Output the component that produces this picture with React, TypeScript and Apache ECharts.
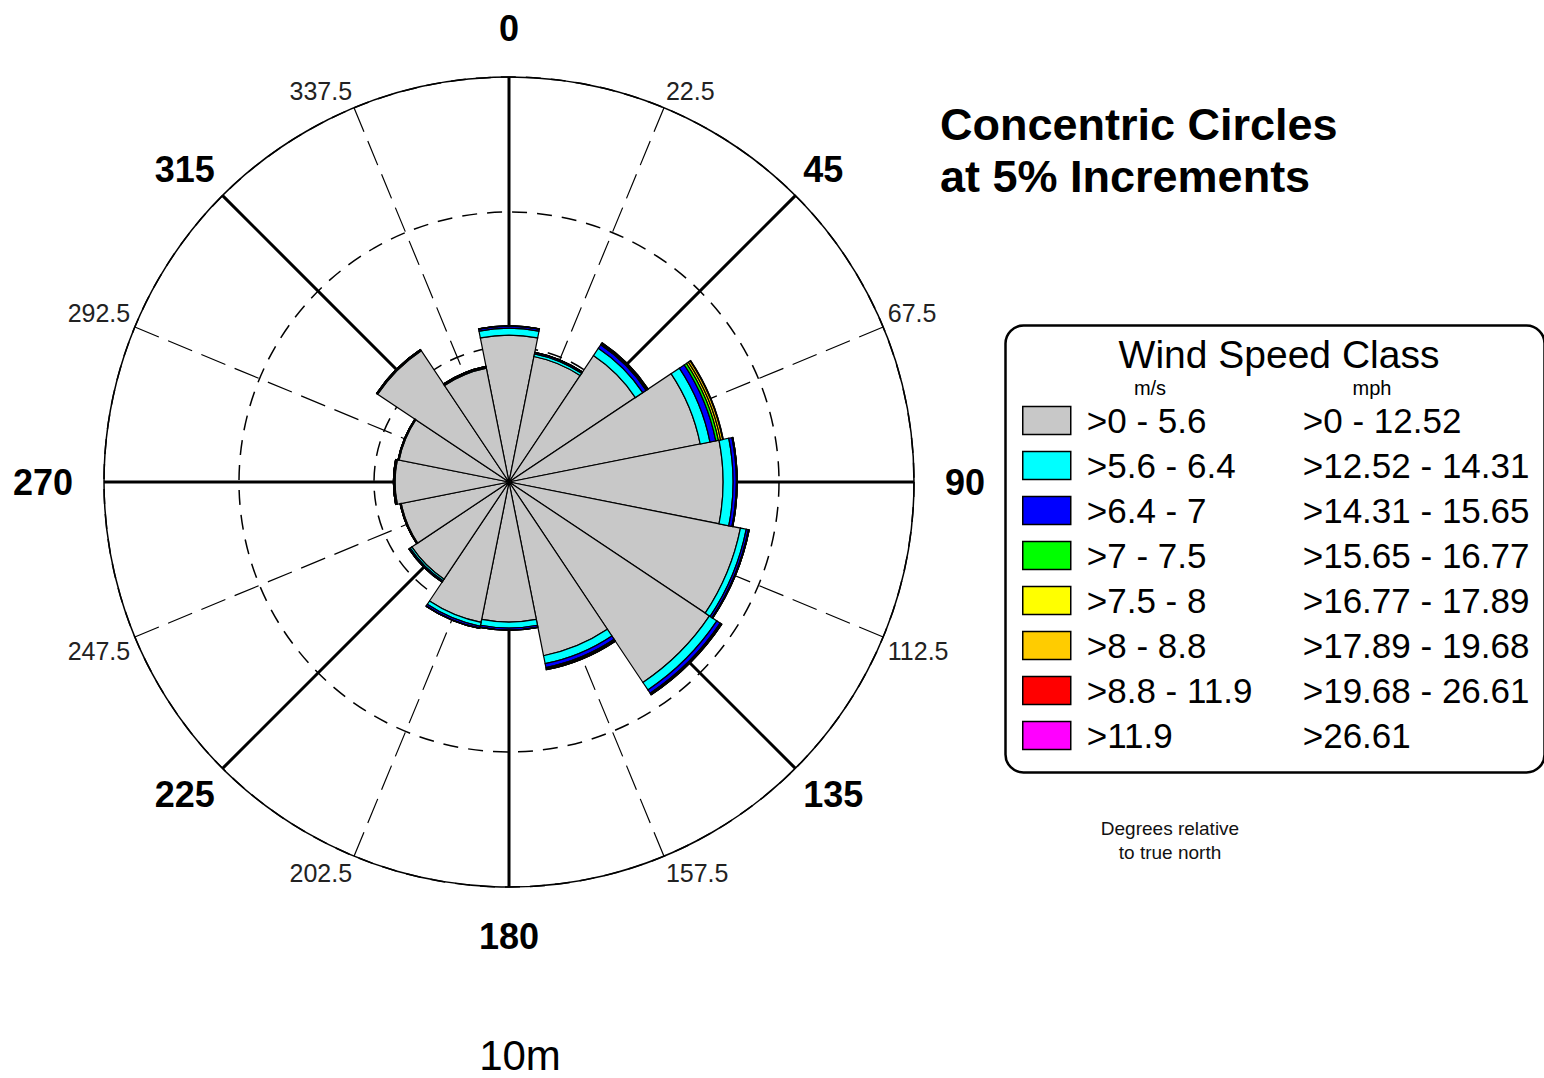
import React, { useEffect, useRef } from "react";
import * as echarts from "echarts";

const directions = ["N", "NNE", "NE", "ENE", "E", "ESE", "SE", "SSE", "S", "SSW", "SW", "WSW", "W", "WNW", "NW", "NNW"];
const cardinalLabels = ["0", "90", "180", "270"];
const diagonalLabels = ["45", "135", "225", "315"];
const minorLabels = ["22.5", "67.5", "112.5", "157.5", "202.5", "247.5", "292.5", "337.5"];

const speedMs = [">0 - 5.6", ">5.6 - 6.4", ">6.4 - 7", ">7 - 7.5", ">7.5 - 8", ">8 - 8.8", ">8.8 - 11.9", ">11.9"];
const speedMph = [">0 - 12.52", ">12.52 - 14.31", ">14.31 - 15.65", ">15.65 - 16.77", ">16.77 - 17.89", ">17.89 - 19.68", ">19.68 - 26.61", ">26.61"];
const speedColors = ["#c8c8c8", "#00ffff", "#0000ff", "#00ff00", "#ffff00", "#ffcc00", "#ff0000", "#ff00ff"];

// percent frequency per direction (N, NNE, ..., NNW)
const class1 = [5.44, 4.74, 5.63, 7.22, 7.93, 8.74, 8.93, 6.56, 5.19, 5.3, 4.33, 4.07, 4.22, 4.15, 5.85, 4.3];
const class2 = [0.26, 0.1, 0.33, 0.37, 0.37, 0.22, 0.33, 0.3, 0.22, 0.15, 0.07, 0.02, 0.03, 0.02, 0.03, 0.02];
const class3 = [0.07, 0.05, 0.15, 0.22, 0.12, 0.08, 0.15, 0.15, 0.07, 0.07, 0.05, 0.02, 0.03, 0.02, 0.02, 0.04];
const class4 = [0.01, 0.01, 0.04, 0.1, 0.02, 0.02, 0.04, 0.04, 0.01, 0.01, 0.01, 0, 0, 0, 0, 0.01];
const class5 = [0, 0, 0.03, 0.08, 0.01, 0.01, 0.02, 0.03, 0, 0, 0, 0, 0, 0, 0, 0];
const class6 = [0, 0, 0.02, 0.08, 0, 0, 0.01, 0.01, 0, 0, 0, 0, 0, 0, 0, 0];
const class7 = [0, 0, 0, 0.02, 0, 0, 0, 0, 0, 0, 0, 0, 0, 0, 0, 0];
const class8 = [0, 0, 0, 0, 0, 0, 0, 0, 0, 0, 0, 0, 0, 0, 0, 0];
const classData = [class1, class2, class3, class4, class5, class6, class7, class8];

const FONT = "'Liberation Sans', Arial, sans-serif";
const CENTER = [509, 482];
const RADIUS = 405;

export default function App() {
  const ref = useRef<HTMLDivElement>(null);

  useEffect(() => {
    document.body.style.margin = "0";
    const chart = echarts.init(ref.current!, null, { renderer: "svg" });

    const polarBase = { center: CENTER, radius: RADIUS };
    const hiddenRadius = (i: number) => ({
      polarIndex: i,
      type: "value",
      min: 0,
      max: 15,
      show: false,
    });

    const option: any = {
      animation: false,
      backgroundColor: "#ffffff",
      title: [
        {
          text: "Concentric Circles\nat 5% Increments",
          left: 935,
          top: 93,
          textStyle: { fontFamily: FONT, fontSize: 45, fontWeight: "bold", color: "#000", lineHeight: 52 },
        },
      ],
      polar: [polarBase, polarBase, polarBase, polarBase],
      angleAxis: [
        {
          polarIndex: 0,
          type: "category",
          data: directions,
          boundaryGap: true,
          startAngle: 90 + 11.25,
          clockwise: true,
          axisLine: { show: true, lineStyle: { color: "#000", width: 1.5 } },
          axisTick: { show: false },
          axisLabel: { show: false },
          splitLine: { show: false },
          z: 1,
        },
        {
          polarIndex: 1,
          type: "category",
          data: cardinalLabels,
          boundaryGap: false,
          startAngle: 90,
          clockwise: true,
          axisLine: { show: false },
          axisTick: { show: false },
          axisLabel: { show: true, interval: 0, margin: 31, fontFamily: FONT, fontSize: 36, fontWeight: "bold", color: "#000" },
          splitLine: { show: true, interval: 0, lineStyle: { color: "#000", width: 3 } },
          z: 1,
        },
        {
          polarIndex: 2,
          type: "category",
          data: diagonalLabels,
          boundaryGap: false,
          startAngle: 45,
          clockwise: true,
          axisLine: { show: false },
          axisTick: { show: false },
          axisLabel: { show: true, interval: 0, margin: 11, fontFamily: FONT, fontSize: 36, fontWeight: "bold", color: "#000" },
          splitLine: { show: true, interval: 0, lineStyle: { color: "#000", width: 3 } },
          z: 1,
        },
        {
          polarIndex: 3,
          type: "category",
          data: minorLabels,
          boundaryGap: false,
          startAngle: 67.5,
          clockwise: true,
          axisLine: { show: false },
          axisTick: { show: false },
          axisLabel: { show: true, interval: 0, margin: 5, fontFamily: FONT, fontSize: 25, color: "#222" },
          splitLine: { show: true, interval: 0, lineStyle: { color: "#000", width: 1.2, type: [26, 10] } },
          z: 1,
        },
      ],
      radiusAxis: [
        {
          polarIndex: 0,
          type: "value",
          min: 0,
          max: 15,
          interval: 5,
          axisLine: { show: false },
          axisTick: { show: false },
          axisLabel: { show: false },
          splitLine: { show: true, lineStyle: { color: "#000", width: 1.5, type: [15, 10] } },
          z: 1,
        },
        hiddenRadius(1),
        hiddenRadius(2),
        hiddenRadius(3),
      ],
      legend: {
        orient: "vertical",
        left: 1022,
        top: 403,
        padding: 0,
        itemWidth: 48,
        itemHeight: 28,
        itemGap: 10,
        icon: "rect",
        selectedMode: false,
        data: speedMs,
        itemStyle: { borderColor: "#000", borderWidth: 1.5 },
        formatter: (name: string) => {
          const i = speedMs.indexOf(name);
          return `{a|${name}}{b|${speedMph[i]}}`;
        },
        textStyle: {
          color: "#000",
          fontFamily: FONT,
          fontSize: 35,
          lineHeight: 35,
          rich: {
            a: { fontFamily: FONT, fontSize: 35, lineHeight: 35, color: "#000", width: 216, padding: [0, 0, 0, 11] },
            b: { fontFamily: FONT, fontSize: 35, lineHeight: 35, color: "#000" },
          },
        },
      },
      graphic: [
        {
          type: "rect",
          left: 1003,
          top: 323,
          shape: { width: 539, height: 447, r: 18 },
          style: { fill: "none", stroke: "#000", lineWidth: 2.5 },
          z: 0,
        },
        {
          type: "text",
          x: 1279,
          y: 354,
          style: { text: "Wind Speed Class", fontFamily: FONT, fontSize: 39, fill: "#000", align: "center", verticalAlign: "middle" },
        },
        {
          type: "text",
          x: 1150,
          y: 388,
          style: { text: "m/s", fontFamily: FONT, fontSize: 20, fill: "#000", align: "center", verticalAlign: "middle" },
        },
        {
          type: "text",
          x: 1372,
          y: 388,
          style: { text: "mph", fontFamily: FONT, fontSize: 20, fill: "#000", align: "center", verticalAlign: "middle" },
        },
        {
          type: "text",
          x: 1170,
          y: 840,
          style: {
            text: "Degrees relative\nto true north",
            fontFamily: FONT,
            fontSize: 19,
            lineHeight: 24,
            fill: "#111",
            align: "center",
            verticalAlign: "middle",
          },
        },
        {
          type: "text",
          x: 520,
          y: 1055,
          style: {
            text: "10m",
            fontFamily: FONT,
            fontSize: 42,
            lineHeight: 42,
            fill: "#000",
            align: "center",
            verticalAlign: "middle",
          },
        },
      ],
      series: classData.map((vals, i) => ({
        name: speedMs[i],
        type: "bar",
        coordinateSystem: "polar",
        polarIndex: 0,
        stack: "total",
        barCategoryGap: "0%",
        data: vals,
        itemStyle: { color: speedColors[i], borderColor: "#000", borderWidth: 1.2 },
        emphasis: { disabled: true },
        z: 5,
      })),
    };

    chart.setOption(option);
    return () => chart.dispose();
  }, []);

  return <div ref={ref} style={{ position: "absolute", left: 0, top: 0, width: 1544, height: 1078 }} />;
}
